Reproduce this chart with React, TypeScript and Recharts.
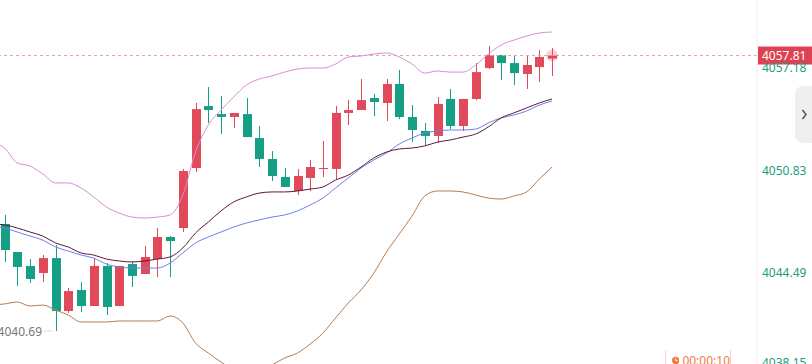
import React from "react";
import {
  ComposedChart,
  Bar,
  Line,
  XAxis,
  YAxis,
  ReferenceLine,
  ReferenceDot,
} from "recharts";

// === DATA ===
// index -1 only carries the indicator lines (its candle is off the left edge)
const candleIdx = [-1, 0, 1, 2, 3, 4, 5, 6, 7, 8, 9, 10, 11, 12, 13, 14, 15, 16, 17, 18, 19, 20, 21, 22, 23, 24, 25, 26, 27, 28, 29, 30, 31, 32, 33, 34, 35, 36, 37, 38, 39, 40, 41, 42, 43];
const opens = [null, 4047.34, 4045.6, 4044.73, 4044.29, 4045.22, 4041.93, 4043.24, 4042.24, 4044.73, 4042.24, 4044.85, 4044.23, 4045.16, 4046.53, 4047.09, 4050.82, 4054.67, 4054.17, 4053.99, 4054.17, 4052.68, 4051.38, 4050.26, 4049.39, 4050.2, 4050.76, 4050.76, 4054.24, 4054.42, 4055.17, 4054.86, 4056.04, 4053.99, 4053.12, 4052.81, 4055.11, 4053.43, 4055.11, 4057.03, 4057.84, 4057.34, 4056.66, 4057.09, 4057.62];
const highs = [null, 4047.9, 4045.6, 4045.16, 4045.41, 4046.03, 4043.36, 4043.73, 4045.22, 4044.91, 4044.73, 4044.98, 4045.97, 4047.09, 4046.59, 4050.76, 4054.86, 4055.85, 4055.29, 4054.24, 4055.17, 4053.43, 4051.87, 4050.82, 4050.76, 4051.32, 4052.5, 4054.67, 4055.04, 4056.35, 4055.42, 4056.35, 4056.91, 4054.73, 4053.62, 4055.23, 4055.73, 4055.11, 4057.34, 4058.4, 4057.84, 4057.84, 4057.84, 4058.15, 4058.28];
const lows = [null, 4044.98, 4043.48, 4043.67, 4043.73, 4040.69, 4041.81, 4041.87, 4042.24, 4041.68, 4042.24, 4043.42, 4044.23, 4044.04, 4044.04, 4046.84, 4050.57, 4053.62, 4052.93, 4053.3, 4052.74, 4050.88, 4050.01, 4049.64, 4049.14, 4049.39, 4050.26, 4050.13, 4053.49, 4054.42, 4054.05, 4053.74, 4053.86, 4052.43, 4052.19, 4052.37, 4053.24, 4053.12, 4055.04, 4056.97, 4056.29, 4055.98, 4055.73, 4056.16, 4056.54];
const closes = [null, 4045.72, 4044.67, 4043.92, 4045.22, 4041.93, 4043.17, 4042.24, 4044.73, 4042.18, 4044.73, 4044.11, 4045.29, 4046.53, 4046.28, 4050.63, 4054.48, 4054.42, 4053.99, 4054.24, 4052.74, 4051.38, 4050.32, 4049.64, 4050.32, 4050.88, 4050.82, 4054.24, 4054.42, 4055.04, 4054.92, 4056.04, 4053.99, 4053.18, 4052.81, 4054.8, 4053.43, 4055.11, 4056.78, 4057.84, 4057.34, 4056.72, 4057.22, 4057.72, 4057.81];

// bollinger bands + moving average
const bollUpper = [4052.43, 4052.06, 4051.13, 4050.94, 4050.45, 4049.89, 4049.89, 4049.58, 4049.02, 4048.39, 4048.02, 4047.77, 4047.71, 4047.77, 4047.9, 4049.14, 4051.81, 4053.49, 4054.42, 4055.23, 4055.98, 4056.35, 4056.54, 4056.78, 4056.97, 4057.03, 4057.03, 4057.28, 4057.72, 4057.78, 4057.9, 4057.97, 4057.72, 4057.28, 4056.72, 4056.85, 4056.78, 4056.78, 4057.22, 4057.9, 4058.46, 4058.77, 4059.02, 4059.21, 4059.27];
const bollMid = [4047.21, 4047.09, 4046.84, 4046.59, 4046.34, 4045.91, 4045.66, 4045.41, 4045.22, 4044.85, 4044.67, 4044.6, 4044.6, 4044.6, 4044.91, 4045.54, 4046.16, 4046.53, 4046.84, 4047.15, 4047.4, 4047.59, 4047.77, 4047.9, 4048.15, 4048.52, 4048.95, 4049.58, 4050.2, 4050.82, 4051.32, 4051.75, 4052.31, 4052.68, 4052.99, 4053.12, 4053.18, 4053.18, 4053.24, 4053.62, 4053.93, 4054.11, 4054.36, 4054.73, 4054.98];
const bollLower = [4042.3, 4042.37, 4042.49, 4042.24, 4042.3, 4041.99, 4041.68, 4041.25, 4041.25, 4041.25, 4041.31, 4041.31, 4041.31, 4041.31, 4041.62, 4041.19, 4039.94, 4039.32, 4038.76, 4038.26, 4038.02, 4038.14, 4038.57, 4039.01, 4039.32, 4039.88, 4040.56, 4041.5, 4042.43, 4043.24, 4044.29, 4045.6, 4046.72, 4047.83, 4049.08, 4049.39, 4049.39, 4049.33, 4049.14, 4048.95, 4048.89, 4049.08, 4049.33, 4050.13, 4050.88];
const ma = [4047.34, 4047.28, 4047.09, 4046.84, 4046.59, 4046.16, 4045.91, 4045.54, 4045.41, 4045.16, 4045.04, 4044.98, 4045.04, 4045.16, 4045.29, 4045.85, 4046.78, 4047.46, 4048.15, 4048.71, 4049.02, 4049.26, 4049.33, 4049.33, 4049.39, 4049.51, 4049.64, 4050.07, 4050.38, 4050.88, 4051.44, 4051.81, 4052.0, 4052.06, 4052.19, 4052.43, 4052.56, 4052.74, 4052.93, 4053.37, 4053.93, 4054.24, 4054.55, 4054.86, 4055.11];

const priceTicks = [4057.18, 4050.83, 4044.49, 4038.15];
const lastPrice = 4057.81;
const lowestPrice = 4040.69;
const lowestIndex = 4;
const lastIndex = 43;
const timerText = "00:00:10";

const RED = "#e04a5b";
const GREEN = "#15a086";
const FONT = "'Noto Sans', Roboto, sans-serif";

const rows = candleIdx.map((i, k) => ({
  i,
  open: opens[k],
  high: highs[k],
  low: lows[k],
  close: closes[k],
  range: opens[k] == null ? null : [lows[k], highs[k]],
  upper: bollUpper[k],
  mid: bollMid[k],
  lower: bollLower[k],
  ma: ma[k],
}));

// candle drawn inside the [low, high] bar rect
const Candle = (props: any) => {
  const { x, y, width, height } = props;
  const p = props.payload ?? props;
  if (x == null || y == null || p.open == null) return null;
  const top = Math.min(y, y + height);
  const h = Math.abs(height);
  const ppu = h / (p.high - p.low || 1);
  const up = p.close >= p.open;
  const color = up ? RED : GREEN;
  const bTop = top + (p.high - Math.max(p.open, p.close)) * ppu;
  const bBot = top + (p.high - Math.min(p.open, p.close)) * ppu;
  const cx = Math.round(x + width / 2) + 0.5;
  return (
    <g>
      <line x1={cx} x2={cx} y1={top} y2={top + h} stroke={color} strokeWidth={1} />
      <rect x={cx - 4.5} y={bTop} width={9} height={Math.max(1, bBot - bTop)} fill={color} />
    </g>
  );
};

const PriceTick = (props: any) => {
  const { x, y, payload } = props;
  return (
    <text x={x - 1} y={Math.min(y + 2.5, 363)} dy="0.35em" fill="#1b9e80" fontSize={12} fontFamily={FONT}>
      {Number(payload.value).toFixed(2)}
    </text>
  );
};

const LastPriceTag = (props: any) => {
  const vb = props.viewBox || {};
  const x = vb.x + vb.width + 1;
  return (
    <g>
      <rect x={x} y={vb.y - 9} width={55} height={18} fill="#dd4254" />
      <text x={x + 4} y={vb.y} dy="0.35em" fill="#fff" fontSize={12} fontFamily={FONT}>
        {lastPrice.toFixed(2)}
      </text>
    </g>
  );
};

const LowMarker = (props: any) => {
  const { cx, cy } = props;
  return (
    <g>
      <line x1={cx - 11} x2={cx - 2} y1={cy} y2={cy} stroke="#999" strokeDasharray="1 2" />
      <text x={cx - 13.5} y={cy + 1} dy="0.35em" textAnchor="end" fill="#777" fontSize={12} fontFamily={FONT}>
        {lowestPrice.toFixed(2)}
      </text>
    </g>
  );
};

const App: React.FC = () => {
  return (
    <div
      style={{
        position: "absolute",
        left: 0,
        top: 0,
        width: 812,
        height: 364,
        overflow: "hidden",
        background: "#fff",
        fontFamily: FONT,
      }}
    >
      <ComposedChart width={812} height={372} data={rows} margin={{ top: 0, right: 0, bottom: 0, left: 0 }}>
        <XAxis type="number" dataKey="i" domain={[-0.36, 59.1]} allowDataOverflow hide />
        <YAxis
          orientation="right"
          width={55}
          domain={[4038.14, 4061.26]}
          allowDataOverflow
          ticks={priceTicks}
          tick={<PriceTick />}
          tickLine={false}
          tickMargin={0}
          axisLine={{ stroke: "#eeeeee" }}
          interval={0}
        />
        <ReferenceLine
          y={lastPrice}
          stroke="#e7a3ab"
          strokeDasharray="3 3"
          label={<LastPriceTag />}
        />
        <Line type="monotone" dataKey="upper" stroke="#d68fd2" strokeWidth={1} dot={false} activeDot={false} isAnimationActive={false} />
        <Line type="monotone" dataKey="lower" stroke="#b87b52" strokeWidth={1} dot={false} activeDot={false} isAnimationActive={false} />
        <Line type="monotone" dataKey="mid" stroke="#6f80e4" strokeWidth={1} dot={false} activeDot={false} isAnimationActive={false} />
        <Line type="monotone" dataKey="ma" stroke="#5a1a3a" strokeWidth={1} dot={false} activeDot={false} isAnimationActive={false} />
        <Bar dataKey="range" barSize={9} shape={<Candle />} isAnimationActive={false} />
        <ReferenceDot x={lowestIndex} y={lowestPrice} r={0} shape={<LowMarker />} />
        <ReferenceDot x={lastIndex} y={lastPrice} r={6} fill={RED} fillOpacity={0.25} stroke="none" />
      </ComposedChart>

      {/* side tab */}
      <div
        style={{
          position: "absolute",
          left: 795,
          top: 86,
          width: 17,
          height: 57,
          background: "#eeeff1",
          borderRadius: "8px 0 0 8px",
        }}
      >
        <svg width={17} height={57} style={{ display: "block" }}>
          <path d="M7.5 24 L11 28.5 L7.5 33" stroke="#555" strokeWidth={1.5} fill="none" />
        </svg>
      </div>

      {/* countdown */}
      <div
        style={{
          position: "absolute",
          left: 665,
          top: 350,
          width: 66,
          height: 20,
          borderLeft: "1px solid #f8d6c6",
          borderRight: "1px solid #f8d6c6",
          color: "#f07a45",
          fontSize: 12,
          display: "flex",
          alignItems: "center",
          gap: 3,
          paddingLeft: 6,
          boxSizing: "border-box",
        }}
      >
        <svg width={9} height={9} viewBox="0 0 10 10">
          <circle cx={5} cy={5} r={5} fill="#f07a45" />
          <path d="M5 2 V5 H7.5" stroke="#fff" strokeWidth={1.2} fill="none" />
        </svg>
        <span>{timerText}</span>
      </div>
    </div>
  );
};

export default App;
